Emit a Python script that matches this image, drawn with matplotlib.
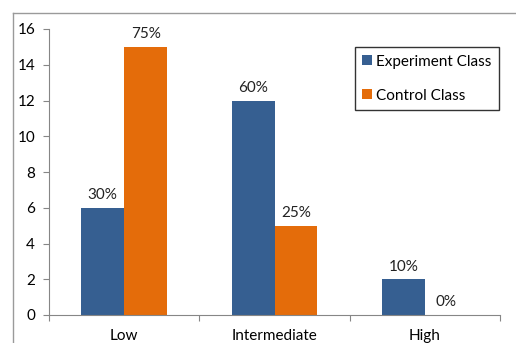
import numpy as np
import matplotlib.pyplot as plt
from matplotlib.lines import Line2D

# ---- data ----
levels = ["Low", "Intermediate", "High"]
experiment = [6, 12, 2]
control = [15, 5, 0]
experiment_pct = ["30%", "60%", "10%"]
control_pct = ["75%", "25%", "0%"]

BLUE = "#365F91"
ORANGE = "#E46C0A"
AXIS_GRAY = "#868686"

plt.rcParams["font.family"] = ["Lato", "DejaVu Sans"]
plt.rcParams["font.size"] = 11

W, H = 516, 343
fig = plt.figure(figsize=(W / 100, H / 100), dpi=100)
ax = fig.add_axes([49 / W, 1 - 315 / H, (500 - 49) / W, (315 - 29) / H])

x = np.arange(len(levels))
bw = 0.286
b1 = ax.bar(x - bw / 2, experiment, bw, color=BLUE, label="Experiment Class")
b2 = ax.bar(x + bw / 2, control, bw, color=ORANGE, label="Control Class")

for bars, labels in ((b1, experiment_pct), (b2, control_pct)):
    for bar, lab in zip(bars, labels):
        ax.annotate(lab, (bar.get_x() + bar.get_width() / 2, bar.get_height()),
                    xytext=(0, 4), textcoords="offset points",
                    ha="center", va="bottom", fontsize=11, color="#222222")

ax.set_xlim(-0.5, 2.5)
ax.set_ylim(0, 16)
ax.set_yticks(range(0, 17, 2))

# category labels centred, ticks at boundaries
ax.set_xticks([-0.5, 0.5, 1.5, 2.5])
ax.set_xticklabels([])
ax.set_xticks(x, minor=True)
ax.set_xticklabels(levels, minor=True)
ax.tick_params(axis="x", which="minor", length=0, pad=10)
ax.tick_params(axis="x", which="major", length=4, color=AXIS_GRAY, direction="out")
ax.tick_params(axis="y", length=4, color=AXIS_GRAY, direction="out", pad=6)

for side in ("top", "right"):
    ax.spines[side].set_visible(False)
for side in ("left", "bottom"):
    ax.spines[side].set_color(AXIS_GRAY)

leg = ax.legend(loc="upper right", bbox_to_anchor=(0.998, 0.937), frameon=True,
                fancybox=False, edgecolor="black", handlelength=0.6,
                handleheight=0.6, handletextpad=0.3, labelspacing=1.3,
                borderpad=0.5, borderaxespad=0, fontsize=11)
leg.get_frame().set_linewidth(1.0)

# outer chart-area border (top and left)
fig.add_artist(Line2D([12.5 / W, 12.5 / W], [0, 1 - 13 / H], color="#9a9a9a", lw=1,
                      transform=fig.transFigure))
fig.add_artist(Line2D([12.5 / W, 1], [1 - 13 / H, 1 - 13 / H], color="#9a9a9a", lw=1,
                      transform=fig.transFigure))

fig.savefig("out.png", dpi=100)
